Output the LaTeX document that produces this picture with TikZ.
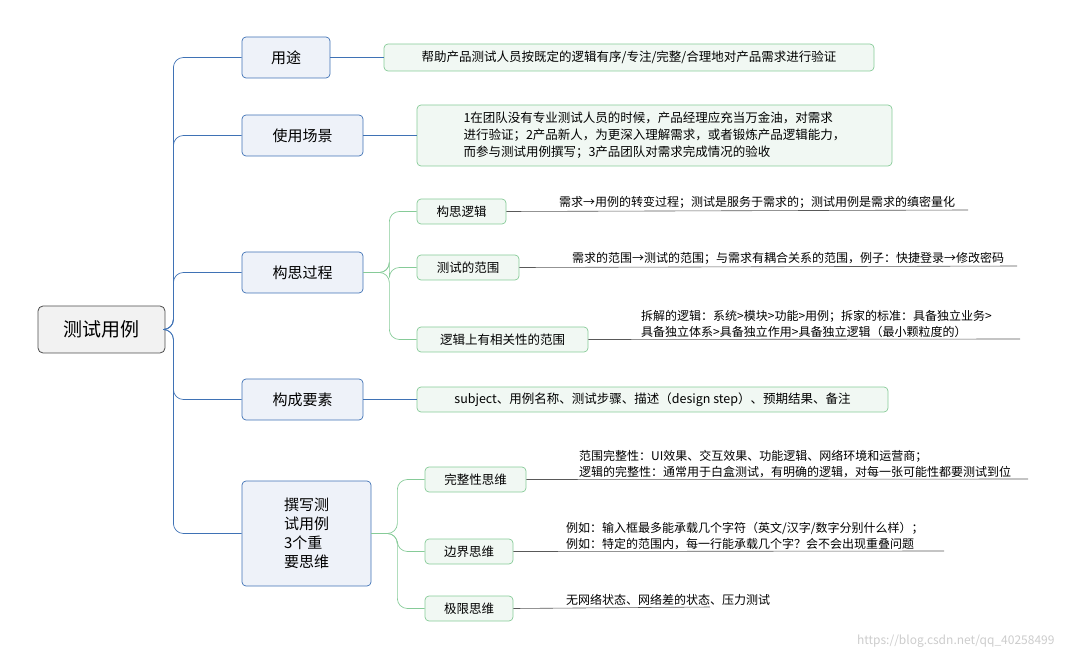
\documentclass[tikz,border=0pt]{standalone}
\usepackage{fontspec}
\setmainfont{Noto Sans CJK SC}
\definecolor{bline}{HTML}{3F72B5}
\definecolor{bfill}{HTML}{EEF2F9}
\definecolor{gline}{HTML}{86CB98}
\definecolor{gfill}{HTML}{F1F8F3}
\begin{document}
\begin{tikzpicture}[x=1pt,y=-1pt,
 l1/.style={draw=bline, fill=bfill, rounded corners=4, line width=0.7pt, font=\fontsize{15}{19}\selectfont, inner sep=0},
 l2/.style={draw=gline, fill=gfill, rounded corners=4, line width=0.7pt, font=\fontsize{12.5}{15}\selectfont, inner sep=0},
 desc/.style={font=\fontsize{12}{16}\selectfont, anchor=south west, inner sep=1, align=left},
 bl/.style={draw=bline, line width=0.7pt, rounded corners=10},
 gl/.style={draw=gline, line width=0.7pt, rounded corners=10},
 ul/.style={draw=gray!70!black, line width=0.6pt}]
\useasboundingbox (0,0) rectangle (1066,660);
\node[draw=black!70, fill=black!5, rounded corners=5, line width=0.8pt, minimum width=127, minimum height=47, font=\fontsize{19}{22}\selectfont] (root) at (101.5,329.5) {测试用例};
\node[l1, minimum width=88, minimum height=41] (a) at (286,57.5) {用途};
\node[l1, minimum width=121, minimum height=41] (b) at (302.5,135.5) {使用场景};
\node[l1, minimum width=121, minimum height=41] (c) at (302.5,272.5) {构思过程};
\node[l1, minimum width=121, minimum height=41] (d) at (302.5,399.5) {构成要素};
\node[l1, minimum width=129, minimum height=105, align=left] (e) at (306.5,533.5) {撰写测\\试用例\\3个重\\要思维};
\foreach \n in {a,b,c,d,e} \draw[bl] (root.east) -- ++(8,0) |- (\n.west);
\node[l2, minimum width=490, minimum height=27] (a1) at (629,57.5) {帮助产品测试人员按既定的逻辑有序/专注/完整/合理地对产品需求进行验证};
\node[l2, minimum width=475, minimum height=61, align=left, font=\fontsize{12.5}{17}\selectfont] (b1) at (654.5,135.5) {1在团队没有专业测试人员的时候，产品经理应充当万金油，对需求\\进行验证；2产品新人，为更深入理解需求，或者锻炼产品逻辑能力，\\而参与测试用例撰写；3产品团队对需求完成情况的验收};
\node[l2, minimum width=471, minimum height=25] (d1) at (652.5,399.5) {subject、用例名称、测试步骤、描述（design step）、预期结果、备注};
\draw[bl] (a.east) -- (a1.west);
\draw[bl] (b.east) -- (b1.west);
\draw[bl] (d.east) -- (d1.west);
\node[l2, minimum width=89, minimum height=25] (c1) at (461.5,211.5) {构思逻辑};
\node[l2, minimum width=102, minimum height=25] (c2) at (468,267.5) {测试的范围};
\node[l2, minimum width=171, minimum height=25] (c3) at (502.5,339.5) {逻辑上有相关性的范围};
\foreach \n in {c1,c2,c3} \draw[gl] (c.east) -- ++(26,0) |- (\n.west);
\node[l2, minimum width=101, minimum height=25] (e1) at (475.5,479.5) {完整性思维};
\node[l2, minimum width=88, minimum height=25] (e2) at (469,551.5) {边界思维};
\node[l2, minimum width=88, minimum height=25] (e3) at (469,608.5) {极限思维};
\foreach \n in {e1,e2,e3} \draw[gl] (e.east) -- ++(26,0) |- (\n.west);
\coordinate (u1) at (968,210); \draw[ul] (c1.east) -- (u1);
\node[desc] at (558,210) {需求→用例的转变过程；测试是服务于需求的；测试用例是需求的缜密量化};
\coordinate (u2) at (1017,266); \draw[ul] (c2.east) -- (u2);
\node[desc] at (571,266) {需求的范围→测试的范围；与需求有耦合关系的范围，例子：快捷登录→修改密码};
\coordinate (u3) at (1020,339); \draw[ul] (c3.east) -- (u3);
\node[desc] at (640,339) {拆解的逻辑：系统>模块>功能>用例；拆家的标准：具备独立业务>\\具备独立体系>具备独立作用>具备独立逻辑（最小颗粒度的）};
\coordinate (u4) at (1028,479); \draw[ul] (e1.east) -- (u4);
\node[desc] at (578,479) {范围完整性：UI效果、交互效果、功能逻辑、网络环境和运营商；\\逻辑的完整性：通常用于白盒测试，有明确的逻辑，对每一张可能性都要测试到位};
\coordinate (u5) at (944,551); \draw[ul] (e2.east) -- (u5);
\node[desc] at (565,551) {例如：输入框最多能承载几个字符（英文/汉字/数字分别什么样）；\\例如：特定的范围内，每一行能承载几个字？会不会出现重叠问题};
\coordinate (u6) at (710,607); \draw[ul] (e3.east) -- (u6);
\node[desc] at (565,607) {无网络状态、网络差的状态、压力测试};
\node[font=\fontsize{12}{14}\selectfont, text=gray!40, anchor=east] (wm) at (1058,641) {https://blog.csdn.net/qq\_40258499};
\end{tikzpicture}
\end{document}
